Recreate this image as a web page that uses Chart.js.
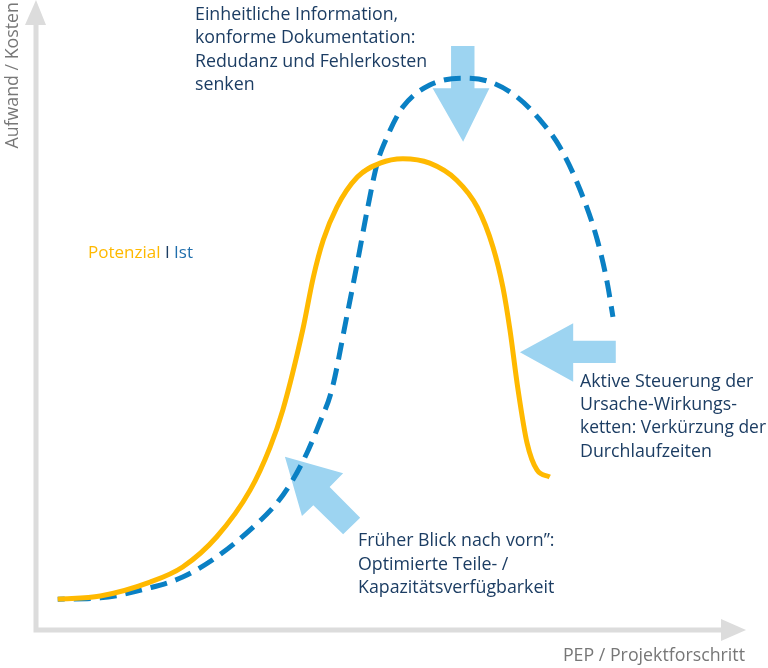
<!DOCTYPE html>
<html>
<head>
<meta charset="utf-8">
<script src="https://cdn.jsdelivr.net/npm/chart.js@4/dist/chart.umd.min.js"></script>
<style>
  html, body { margin: 0; padding: 0; background: #fff; }
  #wrap { width: 768px; height: 668px; position: relative; }
</style>
</head>
<body>
<div id="wrap"><canvas id="chart"></canvas></div>
<script>
// ===== Daten (Achsen 0..100) =====
const potenzialX = [3.2, 9.2, 16.2, 20.8, 25.6, 30.3, 33.1, 34.9, 37.7, 39.2, 40.6, 42.5, 45.4, 48.6, 51.8, 55.6, 59.4, 62.3, 64.5, 65.9, 66.9, 68.0, 69.3, 70.7, 72.5];
const potenzialY = [4.9, 5.4, 7.6, 10.0, 14.8, 22.2, 29.0, 34.9, 47.6, 56.0, 61.9, 67.1, 71.9, 74.1, 74.8, 74.1, 71.4, 67.1, 60.8, 54.4, 47.6, 38.4, 29.7, 25.4, 24.3];

const istX = [3.2, 9.2, 16.2, 20.8, 25.6, 30.3, 34.1, 36.3, 38.3, 40.1, 41.8, 43.9, 45.4, 46.8, 48.2, 49.6, 51.8, 55.6, 60.3, 64.1, 67.9, 71.1, 73.9, 76.8, 79.2, 80.6, 81.4];
const istY = [4.9, 5.1, 6.7, 8.4, 11.6, 15.9, 20.2, 23.8, 28.1, 32.9, 38.1, 49.7, 58.3, 66.7, 74.1, 78.3, 83.0, 86.5, 87.6, 87.0, 84.6, 81.0, 76.7, 69.8, 61.9, 55.1, 49.7];

const seriesLabels = ['Potenzial', 'Ist'];
const axisLabels = ['Aufwand / Kosten', 'PEP / Projektforschritt'];

const noteTop = ['Einheitliche Information,', 'konforme Dokumentation:', 'Redudanz und Fehlerkosten', 'senken'];
const noteRight = ['Aktive Steuerung der', 'Ursache-Wirkungs-', 'ketten: Verkürzung der', 'Durchlaufzeiten'];
const noteBottom = ['Früher Blick nach vorn”:', 'Optimierte Teile- /', 'Kapazitätsverfügbarkeit'];

// ===== Farben =====
const ORANGE = '#ffb900';
const BLUE = '#0a80c4';
const ARROW = '#9dd4f1';
const TEXT = '#1c3d63';
const GREY = '#dcdcdc';
const LABEL = '#777777';
const FONT = '17.8px "Open Sans", Lato, sans-serif';
const FONT_SMALL = '17px "Open Sans", Lato, sans-serif';

function toPoints(xs, ys) {
    return xs.map((x, i) => ({ x, y: ys[i] }));
}

// Pfeil-Polygone in Achsenwerten
const arrows = [
    // nach unten
    [[58.6, 92.7], [61.9, 92.7], [61.9, 86.0], [64.0, 86.0], [60.3, 77.5], [56.0, 86.0], [58.6, 86.0]],
    // nach links
    [[81.8, 45.9], [75.8, 45.9], [75.8, 48.7], [68.3, 44.1], [75.8, 39.4], [75.8, 42.4], [81.8, 42.4]],
    // diagonal nach oben links
    [[35.2, 27.5], [43.4, 24.9], [41.5, 22.7], [45.8, 17.8], [43.4, 15.2], [39.2, 19.8], [37.6, 18.1]]
];

const decoPlugin = {
    id: 'deco',
    beforeDatasetsDraw(chart) {
        const { ctx, chartArea: a, scales: { x, y } } = chart;
        ctx.save();
        // Achsen
        ctx.strokeStyle = GREY;
        ctx.fillStyle = GREY;
        ctx.lineWidth = 5;
        ctx.beginPath();
        ctx.moveTo(a.left + 1, a.top + 22);
        ctx.lineTo(a.left + 1, a.bottom);
        ctx.lineTo(a.right - 22, a.bottom);
        ctx.stroke();
        ctx.beginPath();
        ctx.moveTo(a.left - 10, a.top + 25);
        ctx.lineTo(a.left + 1, a.top);
        ctx.lineTo(a.left + 11, a.top + 25);
        ctx.closePath();
        ctx.fill();
        ctx.beginPath();
        ctx.moveTo(a.right - 24, a.bottom - 11);
        ctx.lineTo(a.right + 1, a.bottom);
        ctx.lineTo(a.right - 24, a.bottom + 11);
        ctx.closePath();
        ctx.fill();

        // Pfeile
        ctx.fillStyle = ARROW;
        arrows.forEach(poly => {
            ctx.beginPath();
            poly.forEach((p, i) => {
                const px = x.getPixelForValue(p[0]);
                const py = y.getPixelForValue(p[1]);
                if (i === 0) ctx.moveTo(px, py); else ctx.lineTo(px, py);
            });
            ctx.closePath();
            ctx.fill();
        });
        ctx.restore();
    },
    afterDraw(chart) {
        const { ctx, chartArea: a } = chart;
        ctx.save();
        ctx.font = FONT;
        ctx.textBaseline = 'alphabetic';
        ctx.textAlign = 'left';

        // Notizen
        ctx.fillStyle = TEXT;
        noteTop.forEach((t, i) => ctx.fillText(t, 195, 20 + i * 23.4));
        noteRight.forEach((t, i) => ctx.fillText(t, 580, 387 + i * 23.2, 186));
        noteBottom.forEach((t, i) => ctx.fillText(t, 358, 546 + i * 23.5));

        // Legende
        ctx.font = FONT_SMALL;
        let lx = 88;
        ctx.fillStyle = ORANGE;
        ctx.fillText(seriesLabels[0], lx, 258);
        lx += ctx.measureText(seriesLabels[0] + ' ').width;
        ctx.fillStyle = TEXT;
        ctx.fillText('I', lx, 258);
        lx += ctx.measureText('I ').width;
        ctx.fillStyle = '#1f6eac';
        ctx.fillText(seriesLabels[1], lx, 258);

        // Achsenbeschriftung
        ctx.font = FONT;
        ctx.fillStyle = LABEL;
        ctx.textAlign = 'right';
        ctx.fillText(axisLabels[1], a.right, 661);
        ctx.translate(18, 0);
        ctx.rotate(-Math.PI / 2);
        ctx.textAlign = 'right';
        ctx.fillText(axisLabels[0], -2, 0);
        ctx.restore();
    }
};

new Chart(document.getElementById('chart'), {
    type: 'line',
    data: {
        datasets: [
            {
                label: seriesLabels[0],
                data: toPoints(potenzialX, potenzialY),
                borderColor: ORANGE,
                borderWidth: 5,
                borderCapStyle: 'butt',
                cubicInterpolationMode: 'monotone',
                pointRadius: 0,
                fill: false
            },
            {
                label: seriesLabels[1],
                data: toPoints(istX, istY),
                borderColor: BLUE,
                borderWidth: 5,
                borderDash: [17, 9],
                borderDashOffset: 10,
                borderCapStyle: 'butt',
                cubicInterpolationMode: 'monotone',
                pointRadius: 0,
                fill: false
            }
        ]
    },
    options: {
        responsive: true,
        maintainAspectRatio: false,
        animation: false,
        layout: { padding: { left: 35, right: 23, top: 0, bottom: 38 } },
        plugins: { legend: { display: false }, tooltip: { enabled: false } },
        scales: {
            x: { type: 'linear', min: 0, max: 100, display: false },
            y: { type: 'linear', min: 0, max: 100, display: false }
        }
    },
    plugins: [decoPlugin]
});
</script>
</body>
</html>
